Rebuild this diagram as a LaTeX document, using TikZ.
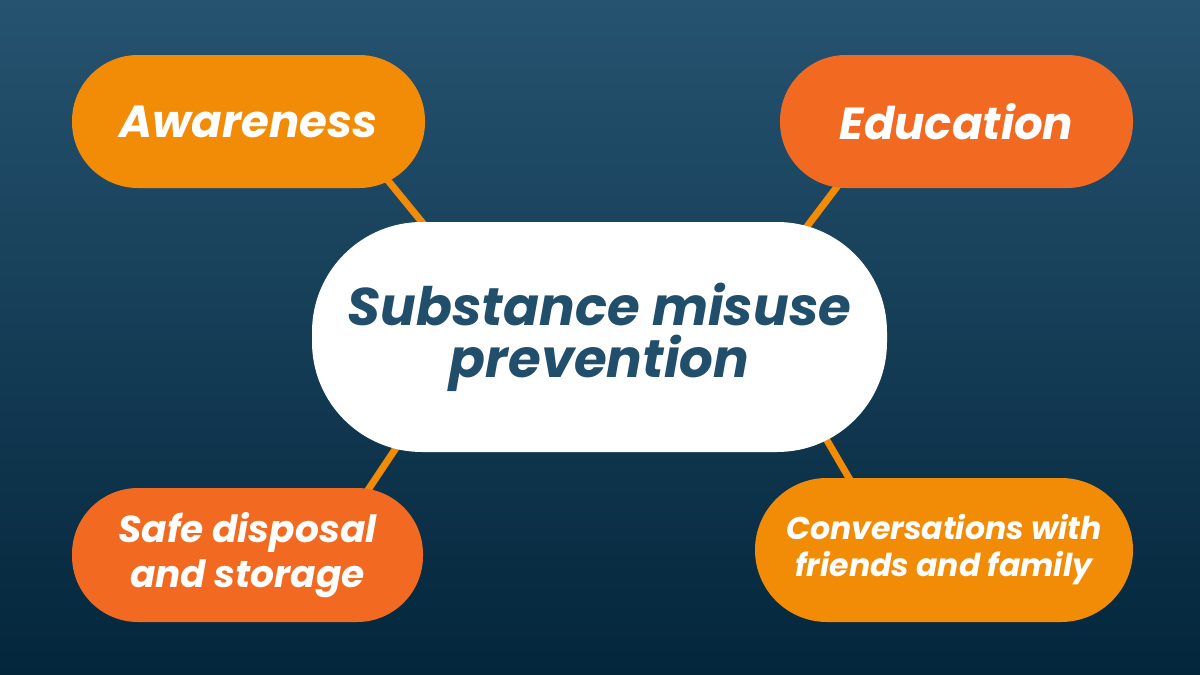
\documentclass[tikz,border=0pt]{standalone}
\usepackage{fontspec}
\setmainfont{Poppins}
\usetikzlibrary{backgrounds}
\definecolor{bgtop}{HTML}{265370}
\definecolor{bgbot}{HTML}{03263B}
\definecolor{amber}{HTML}{F28C06}
\definecolor{tangerine}{HTML}{F26A22}
\definecolor{navy}{HTML}{214F6B}
\begin{document}
\begin{tikzpicture}[x=1pt,y=-1pt]

  \tikzset{
    pill/.style={rounded corners=#1,inner sep=0pt,align=center,font=\bfseries\itshape},
    leaf/.style={pill=66pt,minimum width=353pt,minimum height=133pt,text=white},
    link/.style={amber,line width=7pt},
  }
  \useasboundingbox (0,0) rectangle (1200,675);
  %CENTRE
  \node[pill=110pt,fill=white,text=navy,minimum width=575pt,minimum height=230pt,
        font=\bfseries\itshape\fontsize{53}{52}\selectfont] (centre) at (599.5,337)
        {\rule{0pt}{12pt}Substance misuse\\prevention};
  %BRANCHES
  \node[leaf,fill=amber,font=\bfseries\itshape\fontsize{45}{52}\selectfont] (aware) at (248.5,121.5) {Awareness};
  \node[leaf,fill=tangerine,font=\bfseries\itshape\fontsize{45}{52}\selectfont] (edu) at (956.5,121.5) {Education};
  \node[leaf,fill=tangerine,minimum width=351pt,minimum height=134pt,
        font=\bfseries\itshape\fontsize{37.5}{45}\selectfont] (safe) at (247.5,555) {Safe disposal\\and storage};
  \node[leaf,pill=72pt,fill=amber,minimum width=378pt,minimum height=144pt,
        font=\bfseries\itshape\fontsize{31.5}{37}\selectfont] (conv) at (944,550) {Conversations with\\friends and family};
  %BACKGROUND AND LINKS
  \begin{scope}[on background layer]
    \fill[top color=bgtop,bottom color=bgbot] (0,0) rectangle (1200,675);
    \draw[link] ([shift={(-53,-27)}]aware.south east) -- ([shift={(123,16)}]centre.north west);
    \draw[link] ([shift={(72,-21)}]edu.south west) -- ([shift={(-91,19)}]centre.north east);
    \draw[link] ([shift={(94,-19)}]centre.south west) -- ([shift={(-69,23)}]safe.north east);
    \draw[link] ([shift={(-69,-27)}]centre.south east) -- ([shift={(108,24)}]conv.north west);
  \end{scope}
\end{tikzpicture}
\end{document}
